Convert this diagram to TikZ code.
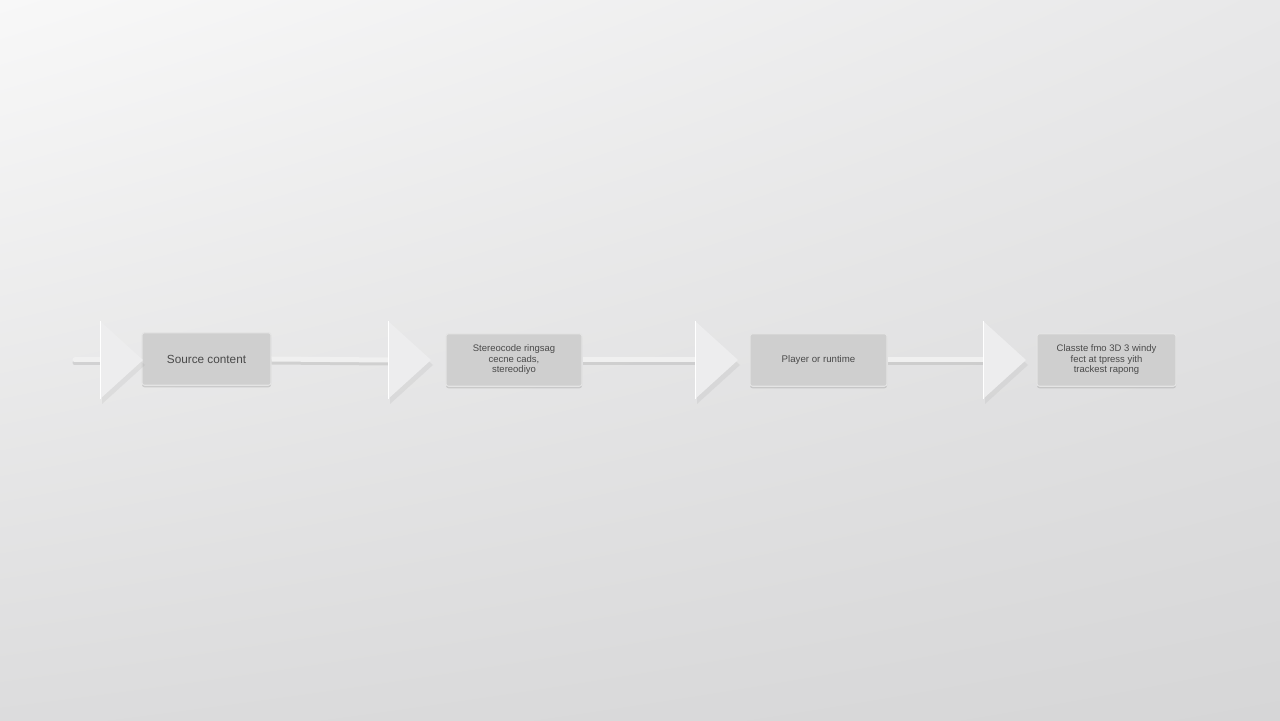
\documentclass[tikz,border=0pt]{standalone}
\usepackage{fontspec}
\setmainfont{Liberation Sans}
\usetikzlibrary{shadows,shadings}

\definecolor{bgA}{HTML}{F8F8F8}
\definecolor{bgB}{HTML}{E8E8E9}
\definecolor{bgC}{HTML}{DCDCDD}
\definecolor{bgD}{HTML}{D6D6D7}
\definecolor{boxfill}{HTML}{CFCFCF}
\definecolor{boxedge}{HTML}{E4E4E4}
\definecolor{trifill}{HTML}{EDEDEE}
\definecolor{rodc}{HTML}{F0F0F0}
\definecolor{txt}{HTML}{4A4A4A}

\tikzset{
  box/.style={draw=boxedge, line width=0.6pt, fill=boxfill, rounded corners=1.5pt,
    minimum height=1.05cm, text=txt, align=center,
    font=\fontsize{5.4}{6}\selectfont,
    drop shadow={shadow xshift=0pt, shadow yshift=-1.2pt, opacity=.22, fill=black!60}},
  rod/.style={line width=1mm, draw=rodc},
  rodshade/.style={line width=1mm, draw=black!35, opacity=.35},
  tri/.style={fill=trifill},
  trishade/.style={fill=black!40, opacity=.15}
}

\begin{document}
\begin{tikzpicture}
  \useasboundingbox (0,0) rectangle (25.6,14.4);
  % background
  \shade[upper left=bgA, upper right=bgB, lower left=bgC, lower right=bgD]
    (0,0) rectangle (25.6,14.4);
  % Define arrow half height and length
  \def\h{0.78}
  \def\l{0.86}
  % the boxes
  \node[box, minimum width=2.58cm, font=\fontsize{6.7}{8}\selectfont] (b1) at (4.13,7.22) {Source content};
  \node[box, minimum width=2.72cm] (b2) at (10.28,7.2) {Stereocode ringsag\\cecne cads,\\stereodiyo};
  \node[box, minimum width=2.74cm, font=\fontsize{5.5}{6.5}\selectfont] (b3) at (16.37,7.2) {Player or runtime};
  \node[box, minimum width=2.78cm] (b4) at (22.13,7.2) {Classte fmo 3D 3 windy\\fect at tpress yith\\trackest rapong};
  % arrow heads, left base point named
  \foreach \x/\n in {2.0/1,7.76/2,13.9/3,19.66/4} {
    \coordinate (t\n) at (\x,7.2);
  }
  \coordinate (s0) at (1.5,7.2);
  % the rod, only between the parts
  \draw[rodshade, line cap=round] ([yshift=-0.6mm]s0) -- ([yshift=-0.6mm]t1);
  \draw[rod, line cap=round] (s0) -- (t1);
  \foreach \a/\b in {b1.east/t2,b2.east/t3,b3.east/t4} {
    \draw[rodshade] ([yshift=-0.6mm]\a) -- ([yshift=-0.6mm]\b);
    \draw[rod] (\a) -- (\b);
  }
  \foreach \n in {1,2,3,4} {
    \fill[trishade] ([xshift=0.4mm,yshift=-1mm]t\n) ++(0,\h) -- ++(\l,-\h) -- ++(-\l,-\h) -- cycle;
    \fill[tri] (t\n) ++(0,\h) -- ++(\l,-\h) -- ++(-\l,-\h) -- cycle;
    \draw[white, line width=0.5pt] (t\n) ++(0,\h) -- ++(0,-2*\h);
  }
\end{tikzpicture}
\end{document}
